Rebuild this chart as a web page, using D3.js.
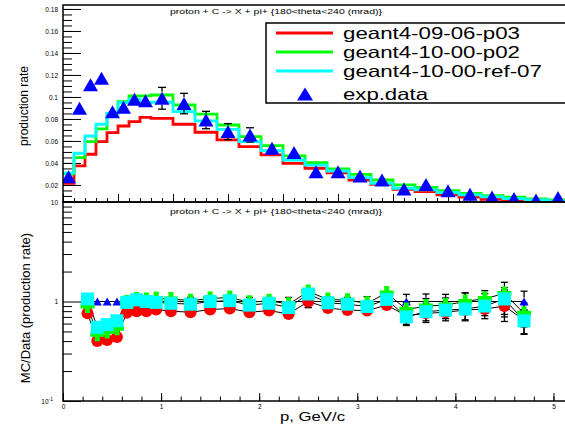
<!DOCTYPE html>
<html>
<head>
<meta charset="utf-8">
<script src="https://cdn.jsdelivr.net/npm/d3@7"></script>
<style>
  body { margin: 0; background: #fff; }
  svg { display: block; font-family: "Liberation Sans", Arial, sans-serif; }
</style>
</head>
<body>
<div id="chart"></div>
<script>
// ---- top panel: production rate vs p ----
var binEdges = [0, 0.1, 0.2, 0.3, 0.4, 0.5, 0.6, 0.7, 0.8, 1.0, 1.2, 1.4, 1.6, 1.8, 2.0,
  2.2, 2.4, 2.6, 2.8, 3.0, 3.2, 3.4, 3.6, 3.8, 4.0, 4.2, 4.4, 4.6];
var dataP = [0.05, 0.15, 0.25, 0.35, 0.45, 0.55, 0.65, 0.75, 0.9, 1.1, 1.3, 1.5, 1.7, 1.9,
  2.1, 2.3, 2.5, 2.7, 2.9, 3.1, 3.3, 3.5, 3.7, 3.9, 4.1, 4.3, 4.5];
var dataRate = [0.0275, 0.0897, 0.111, 0.117, 0.0866, 0.0906, 0.0979, 0.0966, 0.0988, 0.094,
  0.079, 0.0685, 0.0655, 0.0534, 0.0494, 0.0321, 0.0321, 0.0282, 0.0245, 0.0164, 0.0203,
  0.0148, 0.0115, 0.0091, 0.0077, 0.0064, 0.0085];
var dataErr = [0.0014, 0.0045, 0.0055, 0.0058, 0.005, 0.005, 0.0055, 0.0055, 0.0099, 0.0093,
  0.0079, 0.0073, 0.0065, 0.0053, 0.005, 0.0042, 0.0035, 0.0028, 0.0029, 0.0016, 0.0037,
  0.0028, 0.0021, 0.002, 0.0015, 0.0019, 0.0023];
var g4_0906 = [0.0215, 0.0373, 0.0479, 0.0594, 0.0676, 0.0736, 0.0776, 0.0815, 0.0806, 0.0752,
  0.0679, 0.0609, 0.0548, 0.0473, 0.0397, 0.0352, 0.031, 0.0245, 0.0206, 0.016, 0.014,
  0.011, 0.009, 0.007, 0.0055, 0.0045, 0.004];
var g4_1000 = [0.030, 0.0448, 0.0594, 0.0709, 0.085, 0.0957, 0.101, 0.101, 0.1018, 0.0927,
  0.0843, 0.0745, 0.0639, 0.0557, 0.0464, 0.0403, 0.0345, 0.0297, 0.0245, 0.020, 0.0177,
  0.0148, 0.0124, 0.0103, 0.0088, 0.0073, 0.0064];
var g4_ref07 = [0.031, 0.0488, 0.0645, 0.0752, 0.0852, 0.0948, 0.098, 0.0948, 0.0952, 0.0867,
  0.0782, 0.0706, 0.0594, 0.0512, 0.0427, 0.038, 0.0327, 0.0267, 0.0215, 0.017, 0.0155,
  0.013, 0.011, 0.0092, 0.0076, 0.0063, 0.0056];

// ---- bottom panel: MC/Data ----
var ratioP = [0.25, 0.35, 0.45, 0.55, 0.65, 0.75, 0.85, 0.95, 1.1, 1.3, 1.5, 1.7, 1.9, 2.1,
  2.3, 2.5, 2.7, 2.9, 3.1, 3.3, 3.5, 3.7, 3.9, 4.1, 4.3, 4.5, 4.7];
var ratioData = [1, 1, 1, 1, 1, 1, 1, 1, 1, 1, 1, 1, 1, 1, 1, 1, 1, 1, 1, 1, 1, 1, 1, 1, 1, 1, 1];
var ratioRelErr = [0.05, 0.05, 0.05, 0.05, 0.06, 0.06, 0.06, 0.06, 0.1, 0.1, 0.1, 0.107, 0.1,
  0.1, 0.1, 0.13, 0.11, 0.1, 0.12, 0.1, 0.18, 0.19, 0.18, 0.22, 0.2, 0.3, 0.27];
var ratio0906 = [0.76, 0.40, 0.41, 0.44, 0.77, 0.80, 0.80, 0.83, 0.80, 0.78, 0.83, 0.85, 0.78,
  0.81, 0.75, 1.00, 0.86, 0.82, 0.81, 0.92, 0.72, 0.76, 0.78, 0.82, 0.84, 0.90, 0.65];
var ratio1000 = [0.90, 0.47, 0.50, 0.54, 0.99, 1.06, 1.05, 1.07, 1.06, 1.02, 1.07, 1.10, 0.98,
  1.02, 0.94, 1.26, 1.05, 1.03, 0.96, 1.22, 0.83, 0.90, 0.92, 1.00, 1.07, 1.20, 0.76];
var ratioRef07 = [1.06, 0.55, 0.585, 0.64, 0.98, 1.04, 1.00, 0.98, 0.96, 0.94, 1.00, 1.02, 0.92,
  0.96, 0.87, 1.19, 0.97, 0.94, 0.89, 1.05, 0.70, 0.79, 0.82, 0.84, 0.90, 1.06, 0.64];

var seriesNames = ["geant4-09-06-p03", "geant4-10-00-p02", "geant4-10-00-ref-07", "exp.data"];
var seriesColors = ["#ff0000", "#00ff00", "#00ffff", "#0000ff"];
var yTopTicks = [0.02, 0.04, 0.06, 0.08, 0.1, 0.12, 0.14, 0.16, 0.18];
var yBotTicks = [0.1, 1, 10];
var xBotTicks = [0, 1, 2, 3, 4, 5];
var titleText = "proton + C -> X + pi+  {180<theta<240 (mrad)}";

var svg = d3.select("#chart").append("svg").attr("width", 565).attr("height", 425);
svg.append("rect").attr("width", 565).attr("height", 425).attr("fill", "#fff");

var FONT = "'Liberation Sans', Arial, sans-serif";

// scales
var xTop = d3.scaleLinear().domain([0, 4.6]).range([63, 569]);
var yTop = d3.scaleLinear().domain([0.0045, 0.1836]).range([202, 5]);
var xBot = d3.scaleLinear().domain([0, 5.2]).range([63, 573.1]);
var yBot = d3.scaleLog().domain([0.1, 10]).range([401, 202]);

var defs = svg.append("defs");
defs.append("clipPath").attr("id", "clipTop").append("rect")
  .attr("x", 63).attr("y", 5).attr("width", 506).attr("height", 197);
defs.append("clipPath").attr("id", "clipBot").append("rect")
  .attr("x", 63).attr("y", 202).attr("width", 510).attr("height", 199);

function styleAxis(g, fs) {
  g.attr("font-family", FONT).attr("font-size", fs || 6.5);
  g.select(".domain").remove();
  g.selectAll(".tick line").attr("stroke", "#000").attr("stroke-width", 1);
  g.selectAll(".tick text").attr("fill", "#000");
}

// error bar drawn only outside the marker (like ROOT)
function errBar(g, x, yc, yHi, yLo, half, cap) {
  if (yc - yHi > half) {
    g.append("line").attr("x1", x).attr("x2", x).attr("y1", yc - half).attr("y2", yHi);
    g.append("line").attr("x1", x - cap).attr("x2", x + cap).attr("y1", yHi).attr("y2", yHi);
  }
  if (yLo - yc > half) {
    g.append("line").attr("x1", x).attr("x2", x).attr("y1", yc + half).attr("y2", yLo);
    g.append("line").attr("x1", x - cap).attr("x2", x + cap).attr("y1", yLo).attr("y2", yLo);
  }
}

// ---------- top panel ----------
svg.append("g").attr("transform", "translate(0,202)")
  .call(d3.axisBottom(xTop).tickValues(xTop.ticks(46)).tickSize(-4).tickFormat(""))
  .call(styleAxis);
svg.append("g").attr("transform", "translate(0,202)")
  .call(d3.axisBottom(xTop).tickValues(xTop.ticks(10)).tickSize(-8).tickFormat(""))
  .call(styleAxis);
svg.append("g").attr("transform", "translate(63,0)")
  .call(d3.axisLeft(yTop).tickValues(d3.range(0.005, 0.1836, 0.005)).tickSize(-9).tickFormat(""))
  .call(styleAxis);
svg.append("g").attr("transform", "translate(63,0)")
  .call(d3.axisLeft(yTop).tickValues(yTopTicks).tickSize(-18).tickPadding(5)
    .tickFormat(function (d) { return String(+d.toFixed(2)); }))
  .call(styleAxis);

var stepLine = d3.line()
  .x(function (d) { return xTop(d[0]); })
  .y(function (d) { return yTop(d[1]); });

function stepPoints(vals) {
  var pts = [];
  vals.forEach(function (v, i) {
    pts.push([binEdges[i], v]);
    pts.push([binEdges[i + 1], v]);
  });
  return pts;
}

var topPlot = svg.append("g").attr("clip-path", "url(#clipTop)");
[g4_0906, g4_1000, g4_ref07].forEach(function (vals, i) {
  topPlot.append("path")
    .attr("d", stepLine(stepPoints(vals)))
    .attr("fill", "none")
    .attr("stroke", seriesColors[i])
    .attr("stroke-width", 2.8);
});

function triPath(w, h) {
  return "M0," + (-h / 2) + "L" + (w / 2) + "," + (h / 2) + "L" + (-w / 2) + "," + (h / 2) + "Z";
}

// error bars
var ebTop = topPlot.append("g").attr("stroke", "#000").attr("stroke-width", 1.3);
dataP.forEach(function (p, i) {
  errBar(ebTop, xTop(p), yTop(dataRate[i]), yTop(dataRate[i] + dataErr[i]),
    yTop(dataRate[i] - dataErr[i]), 6.5, 4);
});

topPlot.selectAll("path.tri")
  .data(dataP)
  .enter()
  .append("path")
  .attr("class", "tri")
  .attr("d", triPath(15, 13))
  .attr("transform", function (d, i) {
    return "translate(" + xTop(d) + "," + yTop(dataRate[i]) + ")";
  })
  .attr("fill", "#0000ff");

// frame of the top pad
svg.append("rect").attr("x", 63).attr("y", 5).attr("width", 506).attr("height", 197)
  .attr("fill", "none").attr("stroke", "#000").attr("stroke-width", 1.5);

svg.append("text").attr("x", 170).attr("y", 13.5).attr("font-size", 7.5)
  .attr("font-family", FONT).attr("textLength", 212).attr("lengthAdjust", "spacingAndGlyphs")
  .text(titleText);

svg.append("text")
  .attr("transform", "translate(28,106) rotate(-90)")
  .attr("text-anchor", "middle").attr("font-size", 12).attr("font-family", FONT)
  .text("production rate");

// legend
var leg = svg.append("g");
leg.append("rect").attr("x", 266).attr("y", 23).attr("width", 330).attr("height", 80)
  .attr("fill", "#fff").attr("stroke", "#000").attr("stroke-width", 1.5);
var legY = [33, 52, 71, 94];
var legLen = [177, 177, 199, 85];
seriesNames.forEach(function (name, i) {
  if (i < 3) {
    leg.append("line").attr("x1", 276).attr("x2", 333).attr("y1", legY[i]).attr("y2", legY[i])
      .attr("stroke", seriesColors[i]).attr("stroke-width", 3);
  } else {
    leg.append("path").attr("d", triPath(16, 13))
      .attr("transform", "translate(305," + legY[i] + ")").attr("fill", seriesColors[i]);
  }
  leg.append("text").attr("x", 343).attr("y", legY[i] + 5.8)
    .attr("font-size", 16.5).attr("font-family", FONT)
    .attr("textLength", legLen[i]).attr("lengthAdjust", "spacingAndGlyphs")
    .text(name);
});

// ---------- bottom panel ----------
svg.append("g").attr("transform", "translate(0,401)")
  .call(d3.axisBottom(xBot).tickValues(xBot.ticks(26)).tickSize(-4.5).tickFormat(""))
  .call(styleAxis);
svg.append("g").attr("transform", "translate(0,401)")
  .call(d3.axisBottom(xBot).tickValues(xBotTicks).tickSize(-8).tickPadding(3)
    .tickFormat(function (d) { return d; }))
  .call(styleAxis)
  .selectAll(".tick text").attr("y", 3);

var minorLog = [0.2, 0.3, 0.4, 0.5, 0.6, 0.7, 0.8, 0.9, 2, 3, 4, 5, 6, 7, 8, 9];
svg.append("g").attr("transform", "translate(63,0)")
  .call(d3.axisLeft(yBot).tickValues(minorLog).tickSize(-9).tickFormat(""))
  .call(styleAxis);
var yBotAxis = svg.append("g").attr("transform", "translate(63,0)")
  .call(d3.axisLeft(yBot).tickValues(yBotTicks).tickSize(-18).tickPadding(5)
    .tickFormat(function (d) { return d === 0.1 ? "10" : String(d); }))
  .call(styleAxis);
yBotAxis.selectAll(".tick text").filter(function (d) { return d === 0.1; })
  .each(function () {
    var t = d3.select(this);
    t.attr("x", -10);
    t.append("tspan").attr("dy", -2.5).attr("font-size", 5).text("-1");
  });

var botPlot = svg.append("g").attr("clip-path", "url(#clipBot)");
var ratioSeries = [ratio0906, ratio1000, ratioRef07, ratioData];
var ratioHalf = [6, 7, 6.5, 4];

var ratioLine = d3.line()
  .x(function (d, i) { return xBot(ratioP[i]); })
  .y(function (d) { return yBot(d); });

ratioSeries.forEach(function (vals) {
  botPlot.append("path").attr("d", ratioLine(vals))
    .attr("fill", "none").attr("stroke", "#000").attr("stroke-width", 1);
});

var ebBot = botPlot.append("g").attr("stroke", "#000").attr("stroke-width", 1.3);
ratioSeries.forEach(function (vals, s) {
  vals.forEach(function (v, i) {
    errBar(ebBot, xBot(ratioP[i]), yBot(v), yBot(v * (1 + ratioRelErr[i])),
      yBot(v * (1 - ratioRelErr[i])), ratioHalf[s], 3.5);
  });
});

function crossPath(s, a) {
  var h = s / 2, t = a / 2;
  return "M" + (-t) + "," + (-h) + "H" + t + "V" + (-t) + "H" + h + "V" + t + "H" + t +
    "V" + h + "H" + (-t) + "V" + t + "H" + (-h) + "V" + (-t) + "H" + (-t) + "Z";
}

function place(vals) {
  return function (d, i) { return "translate(" + xBot(d) + "," + yBot(vals[i]) + ")"; };
}

// exp.data = 1
botPlot.selectAll("path.btri").data(ratioP).enter().append("path")
  .attr("class", "btri").attr("d", triPath(9, 8))
  .attr("transform", place(ratioData)).attr("fill", "#0000ff");
// geant4-09-06-p03
botPlot.selectAll("circle.red").data(ratioP).enter().append("circle")
  .attr("class", "red").attr("r", 6)
  .attr("cx", function (d) { return xBot(d); })
  .attr("cy", function (d, i) { return yBot(ratio0906[i]); })
  .attr("fill", "#ff0000");
// geant4-10-00-p02
botPlot.selectAll("path.cross").data(ratioP).enter().append("path")
  .attr("class", "cross").attr("d", crossPath(14, 5))
  .attr("transform", place(ratio1000)).attr("fill", "#00ff00");
// geant4-10-00-ref-07
botPlot.selectAll("rect.sq").data(ratioP).enter().append("rect")
  .attr("class", "sq").attr("width", 13).attr("height", 13)
  .attr("x", function (d) { return xBot(d) - 6.5; })
  .attr("y", function (d, i) { return yBot(ratioRef07[i]) - 6.5; })
  .attr("fill", "#00ffff");

svg.append("rect").attr("x", 63).attr("y", 202).attr("width", 510).attr("height", 199)
  .attr("fill", "none").attr("stroke", "#000").attr("stroke-width", 1.5);

svg.append("text").attr("x", 170).attr("y", 214).attr("font-size", 7.5)
  .attr("font-family", FONT).attr("textLength", 212).attr("lengthAdjust", "spacingAndGlyphs")
  .text(titleText);

svg.append("text")
  .attr("transform", "translate(30,308) rotate(-90)")
  .attr("text-anchor", "middle").attr("font-size", 13).attr("font-family", FONT)
  .text("MC/Data (production rate)");

svg.append("text").attr("x", 280).attr("y", 421).attr("font-size", 13)
  .attr("font-family", FONT).attr("textLength", 65).attr("lengthAdjust", "spacingAndGlyphs")
  .text("p, GeV/c");
</script>
</body>
</html>
